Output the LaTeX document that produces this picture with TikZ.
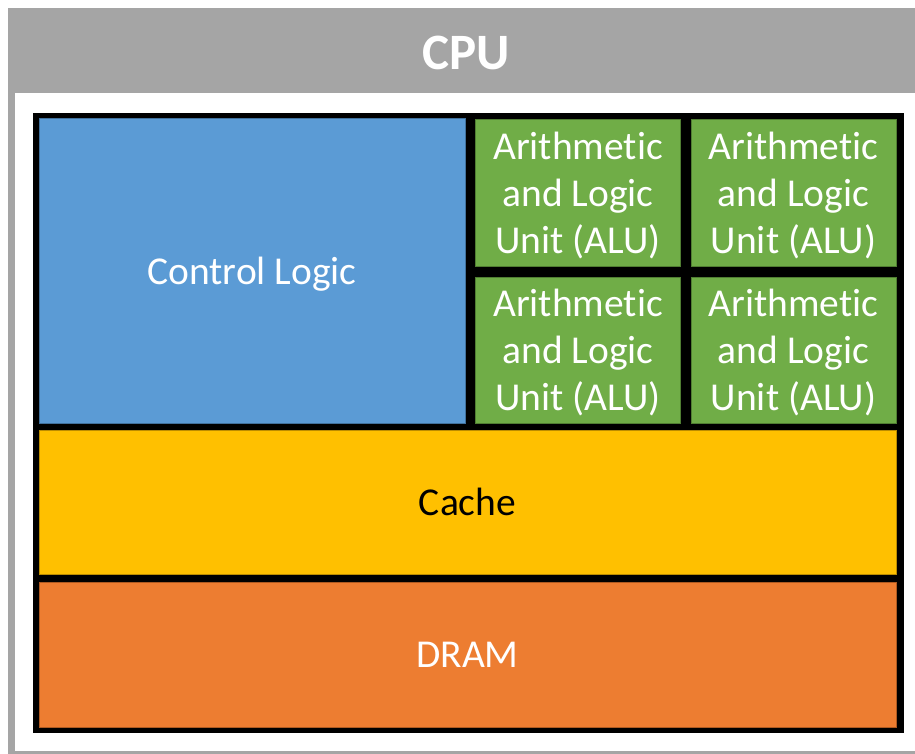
\documentclass[tikz,border=0pt]{standalone}
\usepackage{fontspec}
\setmainfont{Carlito}[RawFeature={-liga;-clig;-calt;-dlig}]
\definecolor{frameGray}{HTML}{A5A5A5}
\definecolor{ctrlBlue}{HTML}{5B9BD5}
\definecolor{ctrlBlueLine}{HTML}{41719C}
\definecolor{aluGreen}{HTML}{70AD47}
\definecolor{aluGreenLine}{HTML}{507E32}
\definecolor{cacheGold}{HTML}{FFC000}
\definecolor{cacheGoldLine}{HTML}{BC8C00}
\definecolor{dramOrange}{HTML}{ED7D31}
\definecolor{dramOrangeLine}{HTML}{AE5A21}
\tikzset{
  unit/.style={rectangle, draw, line width=1pt, inner sep=0pt, align=center,
    text depth=0pt, font=\fontsize{39.5}{47}\selectfont},
  ctrl/.style={unit, fill=ctrlBlue, draw=ctrlBlueLine, text=white},
  alu/.style={unit, fill=aluGreen, draw=aluGreenLine, text=white,
    minimum width=205pt, minimum height=146pt},
  cachebox/.style={unit, fill=cacheGold, draw=cacheGoldLine, text=black},
  drambox/.style={unit, fill=dramOrange, draw=dramOrangeLine, text=white},
}
\begin{document}
\begin{tikzpicture}[x=1pt, y=-1pt]
\useasboundingbox (0,0) rectangle (915,754);
\clip (0,0) rectangle (915,754);
% outer CPU frame with header band
\fill[frameGray] (8,8) rectangle (930,770);
\fill[white] (15,93) rectangle (930,751);
\node[text=white, text depth=0pt, font=\bfseries\fontsize{51}{60}\selectfont] (cpu) at (466,53) {CPU};
% black substrate behind the units
\fill[black] (33,113) rectangle (904,733);
% units
\node[ctrl, minimum width=426pt, minimum height=304pt] (ctrl) at (252,271) {Control Logic};
\node[alu] (alu1) at (578,193) {Arithmetic\\and Logic\\Unit (ALU)};
\node[alu] (alu2) at (793.5,193) {Arithmetic\\and Logic\\Unit (ALU)};
\node[alu] (alu3) at (578,350) {Arithmetic\\and Logic\\Unit (ALU)};
\node[alu] (alu4) at (793.5,350) {Arithmetic\\and Logic\\Unit (ALU)};
\node[cachebox, minimum width=857pt, minimum height=144pt] (cache) at (467.5,502) {Cache};
\node[drambox, minimum width=857pt, minimum height=145pt] (dram) at (467.5,654.5) {DRAM};
\end{tikzpicture}
\end{document}
